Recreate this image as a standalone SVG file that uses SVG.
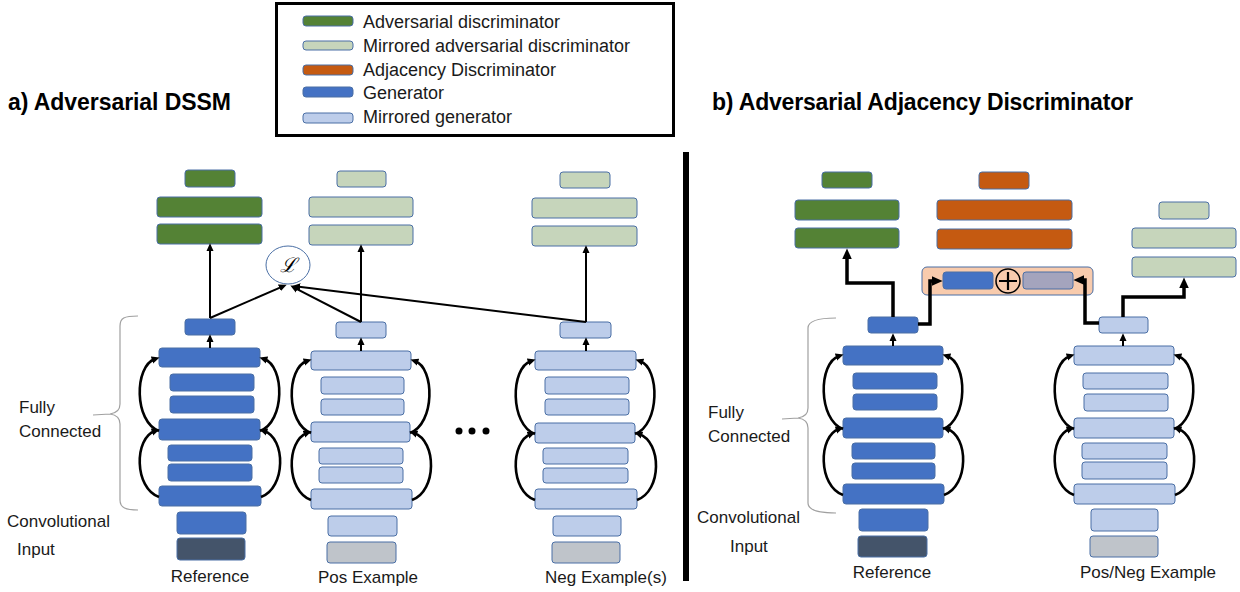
<svg xmlns="http://www.w3.org/2000/svg" width="1240" height="592" viewBox="0 0 1240 592">
<defs>
<style>
.b{stroke:#4a6fa5;stroke-width:1}
.dg{fill:#548235}.lg{fill:#c6d5bb}.or{fill:#c55a11}.bl{fill:#4472c4}.lb{fill:#bdcdea}.dk{fill:#44546a}.gy{fill:#bfc4ca}.pe{fill:#f8cbad}.pu{fill:#a4a4bd}
.t{font-family:"Liberation Sans",Arial,sans-serif;font-size:17px;fill:#1a1a1a}
.lt{font-family:"Liberation Sans",Arial,sans-serif;font-size:18px;fill:#1a1a1a}
.h{font-family:"Liberation Sans",Arial,sans-serif;font-size:23px;font-weight:bold;fill:#000}
.ln{stroke:#000;stroke-width:2;fill:none;marker-end:url(#at)}
.arc{stroke:#000;stroke-width:2.6;fill:none;marker-end:url(#at)}
.tk{stroke:#000;stroke-width:3.5;fill:none;marker-end:url(#ak)}
.br{stroke:#a0a0a0;stroke-width:1.2;fill:none}
</style>
<marker id="at" viewBox="0 0 10 10" refX="4" refY="5" markerWidth="8" markerHeight="8" markerUnits="userSpaceOnUse" orient="auto"><path d="M0,0.5 L10,5 L0,9.5 z" fill="#000"/></marker>
<marker id="ak" viewBox="0 0 10 10" refX="4" refY="5" markerWidth="11" markerHeight="11" markerUnits="userSpaceOnUse" orient="auto"><path d="M0,0.5 L10,5 L0,9.5 z" fill="#000"/></marker>
</defs>
<rect width="1240" height="592" fill="#fff"/>

<g id="legend">
<rect x="276.5" y="3.5" width="397" height="132" fill="#fff" stroke="#000" stroke-width="3"/>
<rect class="dg b" x="303" y="16" width="50" height="10" rx="3"/>
<rect class="lg b" x="303" y="41" width="50" height="9" rx="3"/>
<rect class="or b" x="303" y="65" width="50" height="10" rx="3"/>
<rect class="bl b" x="303" y="87" width="50" height="10" rx="3"/>
<rect class="lb b" x="303" y="113" width="50" height="10" rx="3"/>
<text class="lt" x="363" y="28">Adversarial discriminator</text>
<text class="lt" x="363" y="52">Mirrored adversarial discriminator</text>
<text class="lt" x="363" y="76">Adjacency Discriminator</text>
<text class="lt" x="363" y="99">Generator</text>
<text class="lt" x="363" y="123">Mirrored generator</text>
</g>

<g id="titles">
<text class="h" x="8" y="110" textLength="223">a) Adversarial DSSM</text>
<text class="h" x="712" y="110" textLength="421">b) Adversarial Adjacency Discriminator</text>
</g>

<rect id="divider" x="683" y="152" width="6" height="429" fill="#000"/>

<g id="a-labels">
<text class="t" x="19" y="413">Fully</text>
<text class="t" x="19" y="437">Connected</text>
<text class="t" x="7" y="527">Convolutional</text>
<text class="t" x="17" y="555">Input</text>
<path class="br" d="M138,316 C124,316 120,318 120,326 L120,404 C120,410 117,413 110,414 L93,415 M110,414 C117,415 120,418 120,424 L120,500 C120,508 126,510 138,510"/>
</g>

<g id="a-reference">
<rect class="dg b" x="185" y="170" width="50" height="17" rx="3"/>
<rect class="dg b" x="157" y="197" width="105" height="20" rx="3"/>
<rect class="dg b" x="157" y="224" width="105" height="20" rx="3"/>
<rect class="bl b" x="185" y="319" width="50" height="16" rx="3"/>
<rect class="bl b" x="159" y="348" width="101" height="19" rx="3"/>
<rect class="bl b" x="170" y="374" width="84" height="17" rx="3"/>
<rect class="bl b" x="170" y="396" width="84" height="17" rx="3"/>
<rect class="bl b" x="159" y="419" width="101" height="21" rx="3"/>
<rect class="bl b" x="168" y="445" width="84" height="16" rx="3"/>
<rect class="bl b" x="168" y="464" width="84" height="17" rx="3"/>
<rect class="bl b" x="159" y="486" width="102" height="20" rx="3"/>
<rect class="bl b" x="177" y="512" width="69" height="22" rx="3"/>
<rect class="dk b" x="177" y="538" width="68" height="22" rx="3"/>
<text class="t" x="210" y="582" text-anchor="middle">Reference</text>
</g>

<g id="a-pos">
<rect class="lg b" x="337" y="171" width="49" height="16" rx="3"/>
<rect class="lg b" x="309" y="197" width="104" height="20" rx="3"/>
<rect class="lg b" x="309" y="225" width="104" height="20" rx="3"/>
<rect class="lb b" x="336" y="322" width="50" height="16" rx="3"/>
<rect class="lb b" x="311" y="351" width="100" height="19" rx="3"/>
<rect class="lb b" x="321" y="377" width="83" height="17" rx="3"/>
<rect class="lb b" x="321" y="399" width="83" height="16" rx="3"/>
<rect class="lb b" x="311" y="422" width="99" height="20" rx="3"/>
<rect class="lb b" x="319" y="448" width="84" height="16" rx="3"/>
<rect class="lb b" x="319" y="467" width="84" height="16" rx="3"/>
<rect class="lb b" x="311" y="489" width="101" height="20" rx="3"/>
<rect class="lb b" x="328" y="516" width="69" height="20" rx="3"/>
<rect class="gy b" x="327" y="542" width="69" height="21" rx="3"/>
<text class="t" x="368" y="583" text-anchor="middle">Pos Example</text>
</g>

<g id="a-neg">
<rect class="lg b" x="560" y="172" width="50" height="16" rx="3"/>
<rect class="lg b" x="532" y="198" width="105" height="20" rx="3"/>
<rect class="lg b" x="532" y="226" width="105" height="20" rx="3"/>
<rect class="lb b" x="560" y="322" width="51" height="16" rx="3"/>
<rect class="lb b" x="535" y="351" width="101" height="19" rx="3"/>
<rect class="lb b" x="545" y="377" width="84" height="17" rx="3"/>
<rect class="lb b" x="545" y="399" width="84" height="16" rx="3"/>
<rect class="lb b" x="535" y="423" width="100" height="20" rx="3"/>
<rect class="lb b" x="543" y="448" width="85" height="16" rx="3"/>
<rect class="lb b" x="543" y="468" width="85" height="15" rx="3"/>
<rect class="lb b" x="535" y="489" width="102" height="20" rx="3"/>
<rect class="lb b" x="553" y="516" width="68" height="20" rx="3"/>
<rect class="gy b" x="552" y="542" width="68" height="21" rx="3"/>
<text class="t" x="545" y="583">Neg Example(s)</text>
</g>

<g id="a-loss">
<ellipse cx="288" cy="265" rx="22" ry="19" fill="#fff" stroke="#4a6fa5" stroke-width="1"/>
<text x="288" y="272" text-anchor="middle" font-family="DejaVu Serif, serif" font-style="italic" font-size="20" fill="#000">ℒ</text>
</g>

<g id="a-dots" fill="#000">
<circle cx="459" cy="431" r="3.5"/>
<circle cx="472" cy="431" r="3.5"/>
<circle cx="486" cy="431" r="3.5"/>
</g>

<g id="b-labels">
<text class="t" x="708" y="418">Fully</text>
<text class="t" x="708" y="442">Connected</text>
<text class="t" x="697" y="523">Convolutional</text>
<text class="t" x="730" y="552">Input</text>
<path class="br" d="M836,318 C822,318 808,320 808,328 L808,408 C808,414 805,417 798,418 L782,419 M798,418 C805,419 808,422 808,428 L808,503 C808,511 820,513 836,513"/>
</g>

<g id="b-reference">
<rect class="dg b" x="822" y="172" width="50" height="16" rx="3"/>
<rect class="dg b" x="795" y="200" width="104" height="20" rx="3"/>
<rect class="dg b" x="795" y="228" width="104" height="20" rx="3"/>
<rect class="bl b" x="868" y="317" width="50" height="16" rx="3"/>
<rect class="bl b" x="843" y="346" width="100" height="19" rx="3"/>
<rect class="bl b" x="853" y="373" width="84" height="16" rx="3"/>
<rect class="bl b" x="853" y="394" width="84" height="16" rx="3"/>
<rect class="bl b" x="843" y="418" width="100" height="20" rx="3"/>
<rect class="bl b" x="852" y="443" width="83" height="16" rx="3"/>
<rect class="bl b" x="852" y="463" width="83" height="16" rx="3"/>
<rect class="bl b" x="843" y="484" width="101" height="20" rx="3"/>
<rect class="bl b" x="859" y="509" width="69" height="22" rx="3"/>
<rect class="dk b" x="858" y="536" width="69" height="21" rx="3"/>
<text class="t" x="892" y="578" text-anchor="middle">Reference</text>
</g>

<g id="b-adjacency">
<rect class="or b" x="979" y="172" width="50" height="17" rx="3"/>
<rect class="or b" x="937" y="200" width="135" height="20" rx="3"/>
<rect class="or b" x="937" y="229" width="135" height="20" rx="3"/>
</g>

<g id="b-concat">
<rect class="pe b" x="922" y="267" width="171" height="28" rx="5"/>
<rect class="bl b" x="943" y="272" width="50" height="17" rx="3"/>
<rect class="pu b" x="1023" y="272" width="50" height="17" rx="3"/>
<circle cx="1008" cy="281" r="12" fill="none" stroke="#000" stroke-width="1.5"/>
<path d="M1008,272 V290 M999,281 H1017" stroke="#000" stroke-width="2.2"/>
</g>

<g id="b-posneg">
<rect class="lg b" x="1159" y="202" width="50" height="17" rx="3"/>
<rect class="lg b" x="1132" y="228" width="104" height="20" rx="3"/>
<rect class="lg b" x="1132" y="257" width="104" height="20" rx="3"/>
<rect class="lb b" x="1099" y="317" width="49" height="16" rx="3"/>
<rect class="lb b" x="1074" y="346" width="100" height="19" rx="3"/>
<rect class="lb b" x="1083" y="373" width="85" height="16" rx="3"/>
<rect class="lb b" x="1084" y="394" width="84" height="17" rx="3"/>
<rect class="lb b" x="1074" y="418" width="100" height="20" rx="3"/>
<rect class="lb b" x="1082" y="443" width="85" height="16" rx="3"/>
<rect class="lb b" x="1082" y="462" width="85" height="17" rx="3"/>
<rect class="lb b" x="1074" y="484" width="101" height="20" rx="3"/>
<rect class="lb b" x="1091" y="509" width="67" height="22" rx="3"/>
<rect class="gy b" x="1090" y="536" width="68" height="21" rx="3"/>
<text class="t" x="1080" y="578">Pos/Neg Example</text>
</g>

<g id="connectors">
<!-- a) reference -->
<path class="ln" d="M210,318 V248"/>
<path class="ln" d="M210,348 V339"/>
<path class="ln" d="M210,318 L282.3,286.6"/>
<!-- a) pos -->
<path class="ln" d="M361,322 V249"/>
<path class="ln" d="M361,351 V342"/>
<path class="ln" d="M361,322 L294.6,287.8"/>
<!-- a) neg -->
<path class="ln" d="M586,322 V250"/>
<path class="ln" d="M586,351 V342"/>
<path class="ln" d="M586,322 L297,286.5"/>
<!-- a) skip arcs -->
<path class="arc" d="M159,431 C134,422 134,366 155,359"/>
<path class="arc" d="M159,497 C134,488 134,438 155,431"/>
<path class="arc" d="M260,431 C285,422 285,366 264,359"/>
<path class="arc" d="M261,497 C286,488 286,438 264,431"/>
<path class="arc" d="M311,433 C286,424 286,368 307,361"/>
<path class="arc" d="M311,500 C286,491 286,441 307,433"/>
<path class="arc" d="M410,433 C435,424 435,368 415,361"/>
<path class="arc" d="M412,500 C437,491 437,441 414,433"/>
<path class="arc" d="M535,434 C510,425 510,368 531,361"/>
<path class="arc" d="M535,500 C510,491 510,442 531,434"/>
<path class="arc" d="M635,434 C660,425 660,368 640,361"/>
<path class="arc" d="M637,500 C662,491 662,442 639,434"/>
<!-- b) reference -->
<path class="ln" d="M893,346 V338"/>
<path class="tk" d="M893,317 V283 H847 V255"/>
<path class="tk" d="M918,324 H930 V281 H936"/>
<path class="arc" d="M843,429 C818,420 818,363 839,356"/>
<path class="arc" d="M843,495 C818,486 818,436 839,429"/>
<path class="arc" d="M943,429 C968,420 968,363 947,356"/>
<path class="arc" d="M944,495 C969,486 969,436 947,429"/>
<!-- b) pos/neg -->
<path class="ln" d="M1123,346 V338"/>
<path class="tk" d="M1099,323 H1085 V280 H1080"/>
<path class="tk" d="M1123,317 V297 H1184 V284"/>
<path class="arc" d="M1074,429 C1049,420 1049,363 1070,356"/>
<path class="arc" d="M1074,495 C1049,486 1049,436 1070,429"/>
<path class="arc" d="M1174,429 C1199,420 1199,363 1178,356"/>
<path class="arc" d="M1175,495 C1200,486 1200,436 1178,429"/>
</g>
</svg>
